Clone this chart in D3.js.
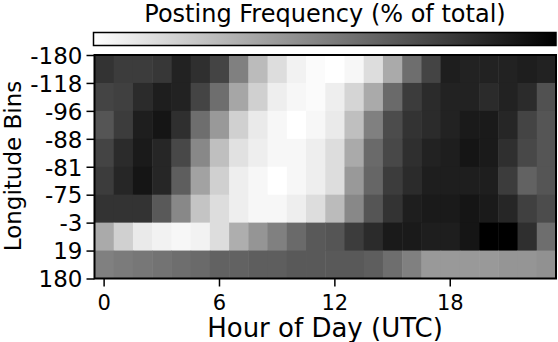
<!DOCTYPE html>
<html>
<head>
<meta charset="utf-8">
<script src="https://cdn.jsdelivr.net/npm/d3@7"></script>
<style>
  body { margin: 0; background: #fff; }
  svg { display: block; }
  text { font-family: "DejaVu Sans", sans-serif; fill: #000; }
</style>
</head>
<body>
<div id="chart"></div>
<script>
// hours of the day (UTC), one column each
const hours = [0,1,2,3,4,5,6,7,8,9,10,11,12,13,14,15,16,17,18,19,20,21,22,23]
const hourTicks = [0, 6, 12, 18]

// longitude bin edges, top to bottom
const edges = ["-180", "-118", "-96", "-88", "-81", "-75", "-3", "19", "180"]

// posting frequency (% of total) per bin, per hour
const binA = [5.8,5.6,5.6,5.7,6.2,5.9,5.4,4.0,2.6,1.8,1.3,1.1,1.0,1.2,1.8,3.0,4.4,5.4,6.3,6.2,6.2,6.2,6.3,6.2]  // -180 .. -118
const binB = [5.4,5.5,6.0,6.3,6.2,5.4,4.4,3.1,2.1,1.4,1.2,1.1,1.4,2.0,3.0,4.5,5.6,6.0,6.2,6.2,6.0,6.2,6.0,5.1]  // -118 .. -96
const binC = [5.0,5.6,6.3,6.5,5.9,4.4,3.4,2.1,1.5,1.2,1.0,1.2,1.5,2.5,4.0,5.2,5.8,6.0,6.2,6.4,6.4,6.1,5.4,5.0]  // -96 .. -88
const binD = [5.4,6.0,6.4,6.1,5.3,3.8,2.5,1.7,1.4,1.2,1.2,1.4,1.8,3.0,4.5,5.3,5.9,6.2,6.3,6.5,6.4,5.9,5.3,5.0]  // -88 .. -81
const binE = [5.6,6.1,6.5,6.1,4.8,3.2,2.1,1.4,1.2,1.0,1.2,1.4,1.8,3.4,4.6,5.6,6.0,6.3,6.3,6.3,6.3,5.6,4.7,5.0]  // -81 .. -75
const binF = [5.8,5.8,5.8,4.9,3.8,2.4,1.8,1.4,1.2,1.2,1.4,1.8,2.6,3.8,5.0,5.8,6.3,6.4,6.4,6.5,6.4,6.1,5.5,5.2]  // -75 .. -3
const binG = [3.0,2.1,1.5,1.3,1.2,1.3,1.8,2.9,3.5,4.0,4.5,4.9,5.0,5.6,6.0,6.4,6.4,6.3,6.3,6.5,7.0,7.0,5.9,4.4]  // -3 .. 19
const binH = [4.0,4.1,4.2,4.3,4.4,4.5,4.7,4.7,4.8,4.8,4.9,4.9,4.9,4.9,4.8,4.4,4.0,3.4,3.4,3.4,3.4,3.5,3.5,3.6]  // 19 .. 180
const bins = [binA, binB, binC, binD, binE, binF, binG, binH]

const freqRange = [1, 7]

const W = 558, H = 342
const plot = {left: 94.5, right: 556, top: 55, bottom: 278.5}

const svg = d3.select("#chart").append("svg")
    .attr("width", W)
    .attr("height", H)

const x = d3.scaleBand().domain(hours).range([plot.left, plot.right])
const y = d3.scaleBand().domain(d3.range(bins.length)).range([plot.top, plot.bottom])
const yEdge = d3.scalePoint().domain(edges).range([plot.top, plot.bottom])
const color = d3.scaleLinear().domain(freqRange).range(["#ffffff", "#000000"])

// heatmap cells
const cells = []
bins.forEach((row, r) => row.forEach((v, h) => cells.push({r: r, h: hours[h], v: v})))

svg.append("g").selectAll("rect")
    .data(cells)
  .enter().append("rect")
    .attr("x", d => x(d.h))
    .attr("y", d => y(d.r))
    .attr("width", x.bandwidth() + 0.5)
    .attr("height", y.bandwidth() + 0.5)
    .attr("fill", d => color(d.v))

// frame
svg.append("rect")
    .attr("x", plot.left)
    .attr("y", plot.top)
    .attr("width", plot.right - plot.left)
    .attr("height", plot.bottom - plot.top)
    .attr("fill", "none")
    .attr("stroke", "#000")
    .attr("stroke-width", 2)

// x axis
const xAxis = svg.append("g")
    .attr("transform", `translate(0,${plot.bottom})`)
    .call(d3.axisBottom(x).tickValues(hourTicks).tickSize(8).tickSizeOuter(0))
xAxis.select(".domain").remove()
xAxis.selectAll("line").attr("stroke", "#000").attr("stroke-width", 1.5)
xAxis.selectAll("text")
    .attr("y", 31).attr("dy", null)
    .style("font-size", "21px")
    .style("font-family", '"DejaVu Sans", sans-serif')

// y axis (labels sit on bin edges)
const yAxis = svg.append("g")
    .attr("transform", `translate(${plot.left},0)`)
    .call(d3.axisLeft(yEdge).tickSize(8).tickPadding(4))
yAxis.select(".domain").remove()
yAxis.selectAll("line").attr("stroke", "#000").attr("stroke-width", 1.5)
yAxis.selectAll("text")
    .attr("dy", "0.36em")
    .style("font-size", "23px")
    .style("font-family", '"DejaVu Sans", sans-serif')

// colorbar
const grad = svg.append("defs").append("linearGradient").attr("id", "cbar")
grad.selectAll("stop")
    .data(freqRange)
  .enter().append("stop")
    .attr("offset", (d, i) => i * 100 + "%")
    .attr("stop-color", d => color(d))

svg.append("rect")
    .attr("x", 93.5)
    .attr("y", 32.5)
    .attr("width", 556 - 93.5)
    .attr("height", 13)
    .attr("fill", "url(#cbar)")
    .attr("stroke", "#000")
    .attr("stroke-width", 1.5)

// labels
svg.append("text")
    .attr("x", 325).attr("y", 22)
    .attr("text-anchor", "middle")
    .style("font-size", "24px")
    .text("Posting Frequency (% of total)")

svg.append("text")
    .attr("x", 325).attr("y", 337)
    .attr("text-anchor", "middle")
    .style("font-size", "26px")
    .text("Hour of Day (UTC)")

svg.append("text")
    .attr("transform", "translate(21,166) rotate(-90)")
    .attr("text-anchor", "middle")
    .style("font-size", "23px")
    .text("Longitude Bins")
</script>
</body>
</html>
